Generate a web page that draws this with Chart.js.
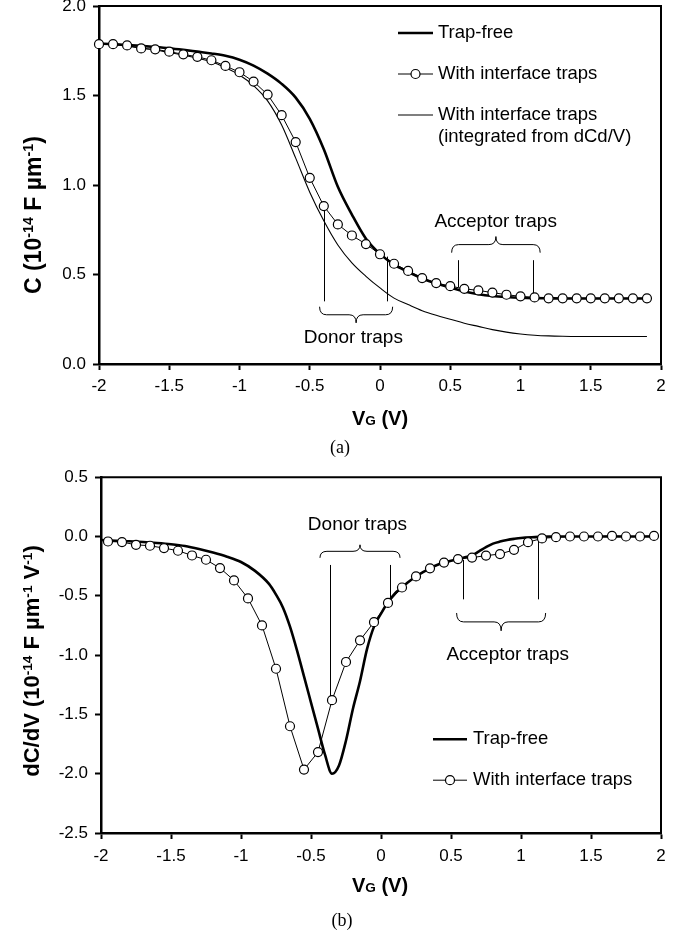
<!DOCTYPE html>
<html>
<head>
<meta charset="utf-8">
<script src="https://cdn.jsdelivr.net/npm/chart.js@4.4.0/dist/chart.umd.min.js"></script>
<style>
  body { margin: 0; background: #fff; }
  #page { position: relative; width: 695px; height: 931px; overflow: hidden; font-family: 'Liberation Sans', Arial, sans-serif; color: #000; }
  .cv { position: absolute; left: 0; }
  .ytitle { position: absolute; white-space: nowrap; font-weight: bold; font-size: 22px; transform: translate(-50%, -50%) rotate(-90deg); }
  .xtitle { position: absolute; white-space: nowrap; font-weight: bold; font-size: 20px; transform: translate(-50%, -50%); }
  .cap { position: absolute; font-family: 'Liberation Serif', 'Times New Roman', serif; font-size: 18px; transform: translate(-50%, -50%); }
  .sup { font-size: 0.62em; position: relative; top: -0.55em; }
  .sub { font-size: 0.68em; }
</style>
</head>
<body>
<div id="page">
  <canvas id="chartA" class="cv" width="695" height="480" style="top:-20px"></canvas>
  <canvas id="chartB" class="cv" width="695" height="471" style="top:460px"></canvas>

  <div class="ytitle" style="left:33px; top:215px; font-size:23px">C (10<span class="sup">-14</span> F µm<span class="sup">-1</span>)</div>
  <div class="xtitle" style="left:380px; top:418px">V<span class="sub">G</span> (V)</div>
  <div class="cap" style="left:340px; top:447px">(a)</div>

  <div class="ytitle" style="left:32px; top:661px">dC/dV (10<span class="sup">-14</span> F µm<span class="sup">-1</span> V<span class="sup">-1</span>)</div>
  <div class="xtitle" style="left:380px; top:885px">V<span class="sub">G</span> (V)</div>
  <div class="cap" style="left:342px; top:920px">(b)</div>
</div>
<script>
// ---- (a) capacitance vs gate voltage ----
const topV = [-2.0, -1.9, -1.8, -1.7, -1.6, -1.5, -1.4, -1.3, -1.2, -1.1,
  -1.0, -0.9, -0.8, -0.7, -0.6, -0.5, -0.4, -0.3, -0.2, -0.1,
  0.0, 0.1, 0.2, 0.3, 0.4, 0.5, 0.6, 0.7, 0.8, 0.9,
  1.0, 1.1, 1.2, 1.3, 1.4, 1.5, 1.6, 1.7, 1.8, 1.9];
const topTrapFree = [1.79, 1.787, 1.782, 1.777, 1.771, 1.764, 1.755, 1.745, 1.735, 1.722,
  1.70, 1.667, 1.622, 1.565, 1.488, 1.37, 1.20, 0.99, 0.835, 0.70,
  0.615, 0.555, 0.515, 0.478, 0.45, 0.428, 0.405, 0.39, 0.38, 0.374,
  0.37, 0.368, 0.367, 0.366, 0.366, 0.366, 0.366, 0.366, 0.366, 0.366];
const topTraps = [1.787, 1.787, 1.78, 1.763, 1.758, 1.745, 1.73, 1.716, 1.697, 1.665,
  1.63, 1.578, 1.505, 1.39, 1.24, 1.04, 0.882, 0.78, 0.718, 0.67,
  0.613, 0.56, 0.52, 0.48, 0.452, 0.435, 0.42, 0.411, 0.399, 0.387,
  0.378, 0.372, 0.367, 0.367, 0.367, 0.367, 0.367, 0.367, 0.367, 0.367];
const topIntegrated = [1.787, 1.784, 1.776, 1.765, 1.754, 1.74, 1.725, 1.708, 1.688, 1.655,
  1.615, 1.555, 1.47, 1.335, 1.15, 0.96, 0.80, 0.665, 0.565, 0.49,
  0.425, 0.368, 0.332, 0.298, 0.272, 0.25, 0.228, 0.21, 0.192, 0.178,
  0.168, 0.161, 0.157, 0.155, 0.154, 0.154, 0.154, 0.154, 0.154, 0.154];

// ---- (b) dC/dV vs gate voltage ----
const botV = [-1.95, -1.85, -1.75, -1.65, -1.55, -1.45, -1.35, -1.25, -1.15, -1.05,
  -0.95, -0.85, -0.75, -0.65, -0.55, -0.45, -0.35, -0.25, -0.15, -0.05,
  0.05, 0.15, 0.25, 0.35, 0.45, 0.55, 0.65, 0.75, 0.85, 0.95,
  1.05, 1.15, 1.25, 1.35, 1.45, 1.55, 1.65, 1.75, 1.85, 1.95];
const botTraps = [-0.042, -0.047, -0.07, -0.078, -0.098, -0.12, -0.16, -0.196, -0.266, -0.37,
  -0.522, -0.75, -1.115, -1.60, -1.965, -1.818, -1.38, -1.058, -0.875, -0.722,
  -0.56, -0.43, -0.337, -0.268, -0.22, -0.19, -0.178, -0.161, -0.148, -0.112,
  -0.048, -0.016, -0.006, 0, 0, 0, 0.005, 0, 0, 0.005];
const botFreeV = [-2.0, -1.8, -1.6, -1.5, -1.4, -1.3, -1.2, -1.1, -1.0, -0.9,
  -0.8, -0.75, -0.7, -0.65, -0.6, -0.55, -0.5, -0.45, -0.4, -0.35,
  -0.3, -0.25, -0.2, -0.15, -0.1, -0.05, 0.0, 0.05, 0.1, 0.15,
  0.2, 0.25, 0.3, 0.35, 0.4, 0.45, 0.5, 0.55, 0.6, 0.65,
  0.7, 0.75, 0.8, 0.85, 0.9, 0.95, 1.0, 1.1, 1.2, 1.4,
  1.6, 1.8, 1.95];
const botTrapFree = [-0.03, -0.04, -0.055, -0.065, -0.08, -0.105, -0.135, -0.17, -0.215, -0.29,
  -0.40, -0.49, -0.60, -0.76, -0.96, -1.18, -1.40, -1.62, -1.84, -2.0,
  -1.93, -1.72, -1.45, -1.22, -0.95, -0.76, -0.65, -0.555, -0.48, -0.43,
  -0.38, -0.337, -0.30, -0.268, -0.24, -0.22, -0.205, -0.19, -0.175, -0.16,
  -0.125, -0.09, -0.06, -0.043, -0.03, -0.02, -0.012, -0.005, 0, 0,
  0, 0, 0];

// tick values
const vgTicks = [-2, -1.5, -1, -0.5, 0, 0.5, 1, 1.5, 2];
const capTicks = [0, 0.5, 1.0, 1.5, 2.0];
const slopeTicks = [-2.5, -2.0, -1.5, -1.0, -0.5, 0, 0.5];

const sansFont = "'Liberation Sans', Arial, sans-serif";
const points = (xs, ys) => xs.map((x, i) => ({ x: x, y: ys[i] }));

// curly brace between x1 and x2, ends at yEnd, centre point at yTip
function brace(ctx, x1, x2, yEnd, yTip) {
  const yMid = (yEnd + yTip) / 2;
  const xc = (x1 + x2) / 2;
  const r = 7;
  ctx.beginPath();
  ctx.moveTo(x1, yEnd);
  ctx.quadraticCurveTo(x1, yMid, x1 + r, yMid);
  ctx.lineTo(xc - r, yMid);
  ctx.quadraticCurveTo(xc, yMid, xc, yTip);
  ctx.quadraticCurveTo(xc, yMid, xc + r, yMid);
  ctx.lineTo(x2 - r, yMid);
  ctx.quadraticCurveTo(x2, yMid, x2, yEnd);
  ctx.stroke();
}

// trap region markers, in data units
const trapMarks = {
  id: 'trapMarks',
  beforeDatasetsDraw(chart, args, opts) {
    const { ctx } = chart;
    const sx = chart.scales.x, sy = chart.scales.y;
    ctx.save();
    ctx.strokeStyle = '#000';
    ctx.lineWidth = 1;
    (opts.lines || []).forEach(l => {
      const px = Math.round(sx.getPixelForValue(l.x)) + 0.5;
      ctx.beginPath();
      ctx.moveTo(px, sy.getPixelForValue(l.from));
      ctx.lineTo(px, sy.getPixelForValue(l.to));
      ctx.stroke();
    });
    (opts.braces || []).forEach(b => {
      brace(ctx, sx.getPixelForValue(b.x1), sx.getPixelForValue(b.x2),
        sy.getPixelForValue(b.yEnd), sy.getPixelForValue(b.yTip));
    });
    ctx.fillStyle = '#000';
    ctx.font = '19px ' + sansFont;
    ctx.textAlign = 'center';
    ctx.textBaseline = 'middle';
    (opts.labels || []).forEach(t => {
      ctx.fillText(t.text, sx.getPixelForValue(t.x), sy.getPixelForValue(t.y));
    });
    ctx.restore();
  }
};

// top and right edges of the plot box
const frame = {
  id: 'frame',
  afterDraw(chart) {
    const { ctx, chartArea: a } = chart;
    ctx.save();
    ctx.strokeStyle = '#000';
    ctx.lineWidth = 2;
    ctx.beginPath();
    ctx.moveTo(a.left, a.top);
    ctx.lineTo(a.right, a.top);
    ctx.lineTo(a.right, a.bottom);
    ctx.stroke();
    ctx.restore();
  }
};

// legend drawn inside the plot area
const insideKey = {
  id: 'insideKey',
  afterDraw(chart, args, opts) {
    const { ctx, chartArea: a } = chart;
    ctx.save();
    ctx.font = opts.font;
    ctx.textAlign = 'left';
    ctx.textBaseline = 'middle';
    opts.rows.forEach(r => {
      const ds = chart.data.datasets[r.ds];
      const x0 = a.left + opts.x, x1 = x0 + opts.w, y0 = a.top + r.y;
      ctx.strokeStyle = ds.borderColor;
      ctx.lineWidth = ds.borderWidth;
      ctx.beginPath();
      ctx.moveTo(x0, y0);
      ctx.lineTo(x1, y0);
      ctx.stroke();
      if (ds.pointRadius > 0) {
        ctx.beginPath();
        ctx.arc((x0 + x1) / 2, y0, ds.pointRadius, 0, Math.PI * 2);
        ctx.fillStyle = ds.pointBackgroundColor;
        ctx.fill();
        ctx.lineWidth = ds.pointBorderWidth;
        ctx.strokeStyle = ds.pointBorderColor;
        ctx.stroke();
      }
      ctx.fillStyle = '#000';
      r.text.forEach((t, i) => ctx.fillText(t, x1 + opts.gap, y0 + i * opts.lineH));
    });
    ctx.restore();
  }
};

function xAxis(height, pad) {
  return {
    type: 'linear', min: -2, max: 2,
    afterBuildTicks: s => { s.ticks = vgTicks.map(v => ({ value: v })); },
    afterFit: s => { s.height = height; },
    ticks: { font: { family: sansFont, size: 17 }, color: '#000', padding: pad,
      maxRotation: 0, autoSkip: false, callback: v => String(v) },
    grid: { drawOnChartArea: false, drawTicks: true, tickLength: 6, tickWidth: 2, tickColor: '#000' },
    border: { display: true, color: '#000', width: 2.5 }
  };
}

function yAxis(width, vals) {
  return {
    type: 'linear', min: vals[0], max: vals[vals.length - 1],
    afterBuildTicks: s => { s.ticks = vals.map(v => ({ value: v })); },
    afterFit: s => { s.width = width; },
    ticks: { font: { family: sansFont, size: 17 }, color: '#000', padding: 7,
      autoSkip: false, callback: v => Number(v).toFixed(1) },
    grid: { drawOnChartArea: false, drawTicks: true, tickLength: 6, tickWidth: 2, tickColor: '#000' },
    border: { display: true, color: '#000', width: 2.5 }
  };
}

const circleStyle = {
  borderColor: '#000', borderWidth: 1, pointRadius: 4.5, pointHoverRadius: 4.5,
  pointBackgroundColor: '#fff', pointBorderColor: '#000', pointBorderWidth: 1.2,
  tension: 0, fill: false, clip: false, order: 0
};
const thickStyle = {
  borderColor: '#000', borderWidth: 2.6, pointRadius: 0, pointHoverRadius: 0,
  cubicInterpolationMode: 'monotone', fill: false, clip: false, order: 1
};
const thinStyle = {
  borderColor: '#000', borderWidth: 1.1, pointRadius: 0, pointHoverRadius: 0,
  cubicInterpolationMode: 'monotone', fill: false, clip: false, order: 2
};

new Chart(document.getElementById('chartA'), {
  type: 'line',
  data: {
    datasets: [
      Object.assign({ label: 'With interface traps', data: points(topV, topTraps) }, circleStyle),
      Object.assign({ label: 'Trap-free', data: points(topV, topTrapFree) }, thickStyle),
      Object.assign({ label: 'With interface traps (integrated from dCd/V)', data: points(topV, topIntegrated) }, thinStyle)
    ]
  },
  options: {
    responsive: false, animation: false, events: [], devicePixelRatio: 1,
    layout: { padding: { top: 26, right: 34, left: 0, bottom: 0 } },
    scales: { x: xAxis(96, 6), y: yAxis(99, capTicks) },
    plugins: {
      legend: { display: false }, tooltip: { enabled: false },
      insideKey: {
        font: '18.5px ' + sansFont, x: 299, w: 35, gap: 5, lineH: 22,
        rows: [
          { ds: 1, y: 27, text: ['Trap-free'] },
          { ds: 0, y: 68, text: ['With interface traps'] },
          { ds: 2, y: 109, text: ['With interface traps', '(integrated from dCd/V)'] }
        ]
      },
      trapMarks: {
        lines: [
          { x: -0.4, from: 0.35, to: 0.88 },
          { x: 0.047, from: 0.35, to: 0.6 },
          { x: 0.555, from: 0.58, to: 0.43 },
          { x: 1.09, from: 0.58, to: 0.375 }
        ],
        braces: [
          { x1: -0.43, x2: 0.09, yEnd: 0.32, yTip: 0.23 },
          { x1: 0.51, x2: 1.14, yEnd: 0.622, yTip: 0.712 }
        ],
        labels: [
          { text: 'Donor traps', x: -0.19, y: 0.145 },
          { text: 'Acceptor traps', x: 0.823, y: 0.796 }
        ]
      }
    }
  },
  plugins: [trapMarks, frame, insideKey]
});

new Chart(document.getElementById('chartB'), {
  type: 'line',
  data: {
    datasets: [
      Object.assign({ label: 'With interface traps', data: points(botV, botTraps) }, circleStyle),
      Object.assign({ label: 'Trap-free', data: points(botFreeV, botTrapFree) }, thickStyle)
    ]
  },
  options: {
    responsive: false, animation: false, events: [], devicePixelRatio: 1,
    layout: { padding: { top: 17, right: 34, left: 0, bottom: 0 } },
    scales: { x: xAxis(98, 7), y: yAxis(101, slopeTicks) },
    plugins: {
      legend: { display: false }, tooltip: { enabled: false },
      insideKey: {
        font: '18.5px ' + sansFont, x: 332, w: 34, gap: 6, lineH: 22,
        rows: [
          { ds: 1, y: 262, text: ['Trap-free'] },
          { ds: 0, y: 303, text: ['With interface traps'] }
        ]
      },
      trapMarks: {
        lines: [
          { x: -0.364, from: -0.24, to: -1.38 },
          { x: 0.064, from: -0.24, to: -0.56 },
          { x: 0.583, from: -0.196, to: -0.53 },
          { x: 1.124, from: -0.01, to: -0.53 }
        ],
        braces: [
          { x1: -0.436, x2: 0.136, yEnd: -0.18, yTip: -0.07 },
          { x1: 0.54, x2: 1.176, yEnd: -0.645, yTip: -0.795 }
        ],
        labels: [
          { text: 'Donor traps', x: -0.168, y: 0.1 },
          { text: 'Acceptor traps', x: 0.905, y: -1.0 }
        ]
      }
    }
  },
  plugins: [trapMarks, frame, insideKey]
});
</script>
</body>
</html>
